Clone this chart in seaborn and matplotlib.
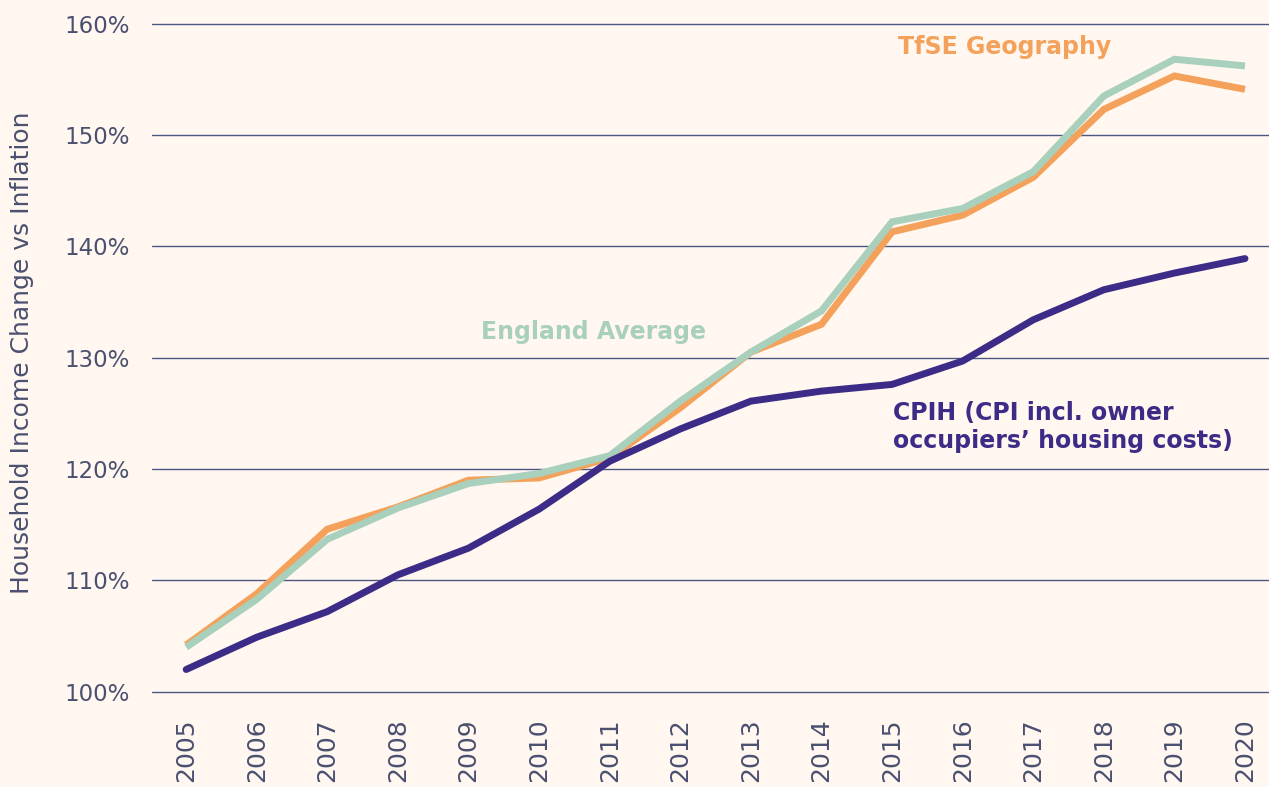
import matplotlib
matplotlib.use("Agg")
import matplotlib.pyplot as plt
import seaborn as sns
import pandas as pd

years = list(range(2005, 2021))
tfse = [104.2, 108.8, 114.6, 116.6, 119.0, 119.2, 121.0, 125.5, 130.5, 133.0,
        141.3, 142.8, 146.2, 152.3, 155.3, 154.1]
england = [104.0, 108.3, 113.7, 116.5, 118.7, 119.6, 121.2, 126.1, 130.5, 134.2,
           142.2, 143.4, 146.7, 153.5, 156.8, 156.2]
cpih = [102.0, 104.9, 107.2, 110.5, 112.9, 116.4, 120.7, 123.6, 126.1, 127.0,
        127.6, 129.7, 133.4, 136.1, 137.6, 138.9]
series_names = ["TfSE Geography", "England Average", "CPIH"]
yticks = [100, 110, 120, 130, 140, 150, 160]

bg = "#FFF7F0"
text_col = "#4A5070"
grid_col = "#4B5683"
colors = {"TfSE Geography": "#F4A25B", "England Average": "#A8D0BC", "CPIH": "#3D2C87"}

df = pd.DataFrame({
    "year": years * 3,
    "value": tfse + england + cpih,
    "series": sum([[n] * len(years) for n in series_names], []),
})

sns.set_style("white")
plt.rcParams["font.family"] = ["DejaVu Sans"]

fig, ax = plt.subplots(figsize=(12.69, 7.87), dpi=100)
fig.patch.set_facecolor(bg)
ax.set_facecolor(bg)
fig.subplots_adjust(left=0.12, right=1.0, top=0.97, bottom=0.121)

sns.lineplot(data=df, x="year", y="value", hue="series", hue_order=series_names,
             palette=colors, linewidth=5, legend=False, ax=ax,
             solid_capstyle="butt", solid_joinstyle="miter")
# purple line has round ends in the original
for line in ax.get_lines():
    if line.get_color() == colors["CPIH"]:
        line.set_solid_capstyle("round")

ax.set_xlim(2004.52, 2020.34)
ax.set_ylim(100, 160)
ax.set_yticks(yticks)
ax.set_yticklabels([f"{v}%" for v in yticks])
ax.set_xticks(years)
ax.set_xticklabels([str(y) for y in years], rotation=90)
ax.tick_params(axis="both", length=0, labelcolor=text_col)
ax.tick_params(axis="x", labelsize=18, pad=19)
ax.tick_params(axis="y", labelsize=16.5, pad=16)

ax.yaxis.grid(True, color=grid_col, linewidth=1)
ax.xaxis.grid(False)
ax.set_axisbelow(True)
for gl in ax.get_ygridlines():
    gl.set_clip_on(False)
for s in ax.spines.values():
    s.set_visible(False)

ax.set_xlabel("")
ax.set_ylabel("Household Income Change vs Inflation", fontsize=18, color=text_col)
ax.yaxis.set_label_coords(-0.106, 0.507)

ax.text(2015.08, 157.9, "TfSE Geography", color=colors["TfSE Geography"],
        fontsize=17, fontweight="bold", va="center", ha="left")
ax.text(2009.18, 132.3, "England Average", color=colors["England Average"],
        fontsize=17, fontweight="bold", va="center", ha="left")
ax.text(2015.01, 123.8, "CPIH (CPI incl. owner\noccupiers\u2019 housing costs)",
        color=colors["CPIH"], fontsize=17, fontweight="bold", va="center",
        ha="left", linespacing=1.2)

fig.savefig("out.png", dpi=100, facecolor=bg)
